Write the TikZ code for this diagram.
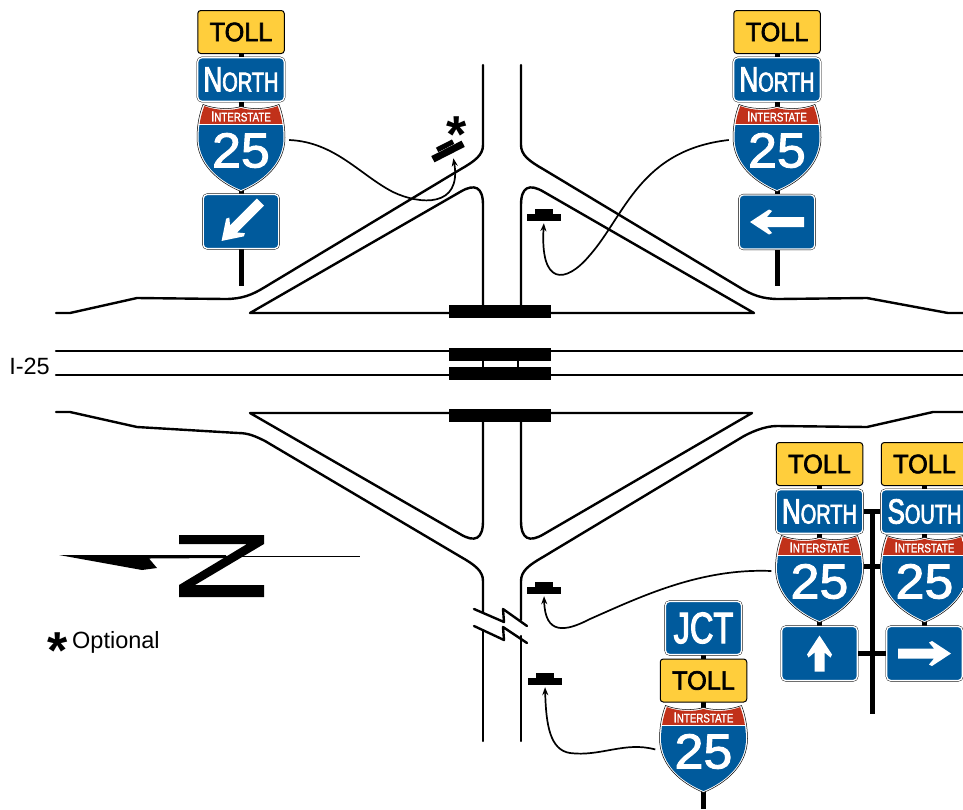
\documentclass[tikz,border=0pt]{standalone}
\usepackage{fontspec}
\usetikzlibrary{arrows.meta}
\setmainfont{Liberation Sans}
\newfontfamily\tollfont[FakeStretch=0.95,FakeBold=2.5]{Liberation Sans}
\newfontfamily\signfont[FakeStretch=0.74,FakeBold=2.5]{Liberation Sans}
\newfontfamily\bandfont[FakeStretch=0.78,FakeBold=1.5]{Liberation Sans}
\newfontfamily\numfont[FakeStretch=1.06,FakeBold=2]{Liberation Sans}
\definecolor{signyellow}{HTML}{FFCE3C}
\definecolor{signblue}{HTML}{005A9C}
\definecolor{signred}{HTML}{C1311A}
\tikzset{
	road/.style={line width=2.4pt, line cap=round, line join=round},
	bridgebar/.style={fill=black},
	signpost/.style={line width=5pt},
	callout/.style={line width=1.7pt, -{Stealth[length=8pt,width=6pt]}},
	tollsign/.style={rectangle, rounded corners=3pt, fill=signyellow, draw=black, line width=1pt, inner sep=0pt, minimum width=86.5pt, minimum height=43pt, font=\tollfont\fontsize{26.5}{26.5}\selectfont},
	bluesign/.style={rectangle, rounded corners=4pt, fill=signblue, draw=white, line width=1.3pt, preaction={draw=black, line width=2.1pt}, inner sep=0pt, text=white, font=\signfont\fontsize{35}{35}\selectfont},
	namesign/.style={bluesign, minimum width=86.5pt, minimum height=43.5pt},
	arrowsign/.style={bluesign, minimum width=75.5pt, minimum height=54pt},
	jctsign/.style={bluesign, minimum width=76pt, minimum height=53pt, font=\signfont\fontsize{44}{44}\selectfont},
	cambase/.style={rectangle, fill=black, inner sep=0pt, minimum width=34pt, minimum height=7pt},
	camtop/.style={rectangle, fill=black, inner sep=0pt, minimum width=18pt, minimum height=5pt},
	label/.style={inner sep=0pt, font=\fontsize{23.5}{23.5}\selectfont},
	starmark/.style={inner sep=0pt, font=\bfseries\fontsize{52}{52}\selectfont}
}
\newcommand\smallcap[1]{{\fontsize{27}{27}\selectfont #1}}
\def\shieldpath{(-38,0) .. controls (-25,5) and (-10,5) .. (0,2) .. controls (10,5) and (25,5) .. (38,0) .. controls (42,10) and (44,22) .. (44,33) .. controls (44,60) and (22,78) .. (0,87) .. controls (-22,78) and (-44,60) .. (-44,33) .. controls (-44,22) and (-42,10) .. (-38,0) -- cycle}
% name, x, top y
\newcommand\shieldsign[3]{%
	\begin{scope}[shift={(#2,#3)}]
		\filldraw[fill=white, draw=black, line width=0.5pt] \shieldpath;
		\begin{scope}[shift={(0,44)}, scale=0.965, shift={(0,-44)}]
			\clip \shieldpath;
			\fill[signred] (-50,-5) rectangle (50,18.5);
			\fill[signblue] (-50,20) rectangle (50,95);
		\end{scope}
		\node[text=white, inner sep=0pt, font=\bandfont\fontsize{12.5}{12.5}\selectfont] at (0,12) {{\fontsize{14.5}{14.5}\selectfont I}NTERSTATE};
		\node[text=white, inner sep=0pt, font=\numfont\fontsize{49}{49}\selectfont] at (0,46) {25};
		\node[minimum width=96pt, minimum height=88pt] (#1) at (0,44) {};
	\end{scope}
}
% sign node, angle, length
\newcommand\signarrow[3]{%
	\fill[white, shift={(#1.center)}, rotate=#2] (-#3/2,-5) -- (#3/2-17,-5) -- (#3/2-22,-11) -- (#3/2-19,-12.5) -- (#3/2,0) -- (#3/2-19,12.5) -- (#3/2-22,11) -- (#3/2-17,5) -- (-#3/2,5) -- cycle;
}
% name, x, y, angle
\newcommand\camera[4]{%
	\node[cambase, rotate=#4] (#1) at (#2,#3) {};
	\node[camtop, rotate=#4, anchor=south] at (#1.north) {};
}

\begin{document}
\begin{tikzpicture}[x=1pt, y=-1pt]
	\useasboundingbox (0,0) rectangle (963,809);
	
	%%%%% ROADS %%%%%
	\draw[road] (56,351) -- (963,351);
	\draw[road] (56,375) -- (963,375);
	\draw[road] (483,361) -- (483,367);
	\draw[road] (518,361) -- (518,367);
	
	\draw[road] (56,313) -- (70,313) -- (137,298) -- (225,299) .. controls (242,299) and (252,295) .. (265,287) -- (461,169) .. controls (475,161) and (483,155) .. (483,145) -- (483,65);
	\draw[road] (483,310) -- (483,205) .. controls (483,187) and (475,183) .. (460,192) -- (250,313) -- (500,313);
	\draw[road] (963,313) -- (948,313) -- (867,298) -- (779,299) .. controls (762,299) and (752,295) .. (739,287) -- (543,169) .. controls (529,161) and (521,155) .. (521,145) -- (521,65);
	\draw[road] (521,310) -- (521,205) .. controls (521,187) and (529,183) .. (544,192) -- (754,313) -- (500,313);
	
	\draw[road] (56,412) -- (70,412) -- (137,427) -- (238,433) .. controls (248,433) and (255,436) .. (265,441) -- (461,557) .. controls (475,565) and (483,571) .. (483,581) -- (483,613);
	\draw[road] (483,415) -- (483,521) .. controls (483,539) and (475,543) .. (460,534) -- (250,413) -- (500,413);
	\draw[road] (963,412) -- (933,412) -- (867,427) -- (777,426) .. controls (765,426) and (750,432) .. (739,439) -- (543,557) .. controls (529,565) and (521,571) .. (521,581) -- (521,620);
	\draw[road] (521,415) -- (521,521) .. controls (521,539) and (529,543) .. (544,534) -- (752,413) -- (500,413);
	
	\draw[road] (483,630) -- (483,741);
	\draw[road] (521,636) -- (521,741);
	\draw[road] (474,609) -- (504,622) -- (503,609) -- (527,626);
	\draw[road] (474,626) -- (504,640) -- (503,627) -- (527,643);
	
	\fill[bridgebar] (449,305) rectangle (551,318);
	\fill[bridgebar] (449,348) rectangle (551,361);
	\fill[bridgebar] (449,367) rectangle (551,380);
	\fill[bridgebar] (449,409) rectangle (551,422);
	
	\node[label, anchor=east] (routelabel) at (50,366) {I-25};
	
	%%%%% NORTH ARROW %%%%%
	\draw[line width=1.6pt] (150,556.5) -- (360,556.5);
	\fill (59,555) -- (226,555) -- (226,558) -- (149,558.5) -- (157,568) -- (142,570) -- cycle;
	\fill (179,535) -- (264,535) -- (264,544) -- (195,585) -- (264,585) -- (264,597) -- (179,597) -- (179,585) -- (247,544) -- (179,544) -- cycle;
	
	\node[starmark] (legendstar) at (58,651) {*};
	\node[label, anchor=west] (legendtext) at (72,642) {Optional};
	
	%%%%% SIGNS %%%%%
	\draw[signpost] (241,20) -- (241,286);
	\node[tollsign] (tollA) at (241,32) {TOLL};
	\node[namesign] (northA) at (241,79.5) {N\smallcap{ORTH}};
	\shieldsign{shieldA}{241}{104.5}
	\node[arrowsign] (arrowA) at (241,221.5) {};
	\signarrow{arrowA}{225}{55}
	
	\draw[signpost] (777,20) -- (777,286);
	\node[tollsign] (tollB) at (777,32) {TOLL};
	\node[namesign] (northB) at (777,79.5) {N\smallcap{ORTH}};
	\shieldsign{shieldB}{777}{104.5}
	\node[arrowsign] (arrowB) at (777,222) {};
	\signarrow{arrowB}{180}{54}
	
	\draw[signpost] (872,511) -- (872,714);
	\draw[signpost] (864,511) -- (880,511);
	\draw[signpost] (864,566) -- (880,566);
	\draw[signpost] (858,653) -- (886,653);
	\draw[signpost] (819.5,460) -- (819.5,640);
	\draw[signpost] (924.5,460) -- (924.5,640);
	\node[tollsign] (tollC) at (819.5,464) {TOLL};
	\node[namesign] (northC) at (819.5,511.5) {N\smallcap{ORTH}};
	\shieldsign{shieldC}{819.5}{535.5}
	\node[arrowsign] (arrowC) at (819.5,653.5) {};
	\signarrow{arrowC}{90}{36}
	\node[tollsign] (tollD) at (924.5,464) {TOLL};
	\node[namesign] (southD) at (924.5,511.5) {S\smallcap{OUTH}};
	\shieldsign{shieldD}{924.5}{535.5}
	\node[arrowsign] (arrowD) at (924.5,653.5) {};
	\signarrow{arrowD}{0}{53}
	
	\draw[signpost] (703.5,620) -- (703.5,809);
	\node[jctsign] (jctE) at (703.5,628) {JCT};
	\node[tollsign] (tollE) at (703.5,680.5) {TOLL};
	\shieldsign{shieldE}{703.5}{705.5}
	
	%%%%% CAMERAS %%%%%
	\camera{camA}{448}{151.5}{27}
	\node[starmark] (camstar) at (457,135) {*};
	\camera{camB}{544}{217.5}{0}
	\camera{camC}{544}{590.5}{0}
	\camera{camD}{545}{681.5}{0}
	
	\draw[callout, shorten >=5pt] (shieldA.10) .. controls (335,142) and (360,175) .. (393,192) .. controls (420,205) and (462,208) .. (camA.-49);
	\draw[callout, shorten >=2pt] (shieldB.170) .. controls (640,150) and (625,215) .. (590,255) .. controls (565,285) and (540,285) .. (camB.south);
	\draw[callout, shorten >=2pt] (shieldC.170) .. controls (700,568) and (640,597) .. (590,619) .. controls (565,632) and (545,635) .. (camC.south);
	\draw[callout, shorten >=2pt] (shieldE.west) .. controls (625,741) and (600,757) .. (570,753) .. controls (550,750) and (546,725) .. (camD.south);
\end{tikzpicture}
\end{document}
